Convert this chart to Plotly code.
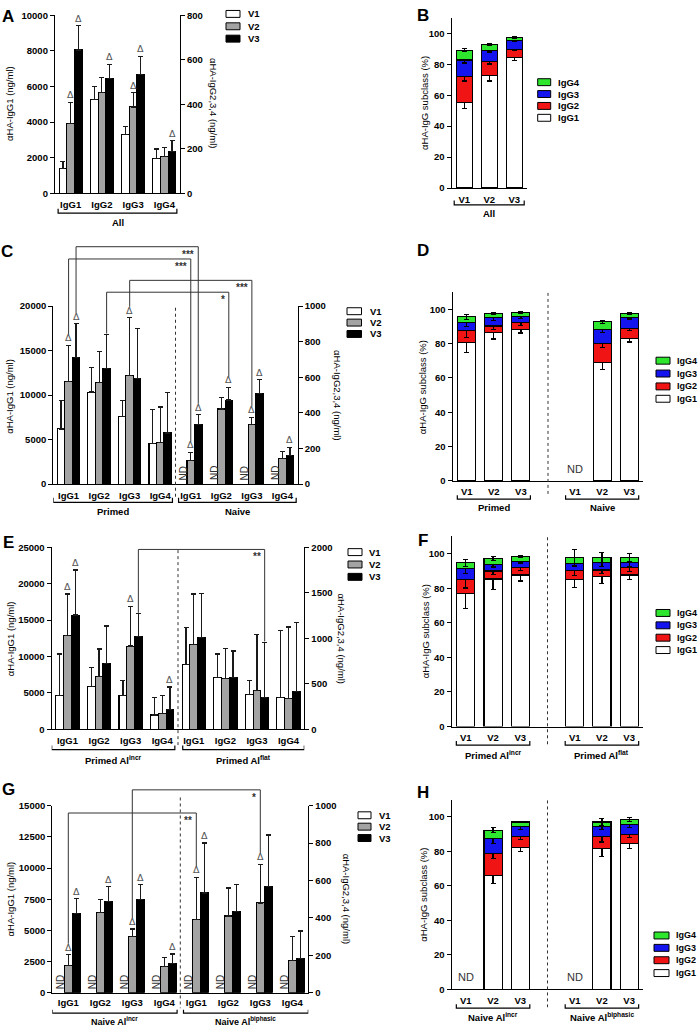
import plotly.graph_objects as go

W, H = 700, 1032
FONT = "Liberation Sans"

visits = ["V1", "V2", "V3"]
subclasses = ["IgG1", "IgG2", "IgG3", "IgG4"]
visit_colors = {"V1": "#ffffff", "V2": "#a3a3a3", "V3": "#000000"}
sub_colors = {"IgG1": "#ffffff", "IgG2": "#f01414", "IgG3": "#1414ee", "IgG4": "#2ee62e"}

# ---------------- Panel A (All) : IgG1 left axis, IgG2-4 right axis ----------------
a_ticks = ["IgG1", "IgG2", "IgG3", "IgG4"]
a_v1 = [1400, 422, 264, 157]
a_v1_err = [400, 58, 37, 42]
a_v1_sig = [0, 0, 0, 0]
a_v2 = [3900, 453, 388, 167]
a_v2_err = [1200, 67, 64, 40]
a_v2_sig = [1, 0, 1, 0]
a_v3 = [8050, 516, 533, 188]
a_v3_err = [1350, 63, 83, 48]
a_v3_sig = [1, 1, 1, 1]

# ---------------- Panel C (Primed | Naive) ----------------
c_ticks = ["IgG1", "IgG2", "IgG3", "IgG4", "IgG1", "IgG2", "IgG3", "IgG4"]
c_v1 = [6200, 517, 378, 226, None, None, None, None]
c_v1_err = [3200, 137, 92, 191, None, None, None, None]
c_v1_sig = [0, 0, 0, 0, 0, 0, 0, 0]
c_v2 = [11500, 570, 611, 233, 2700, 422, 333, 146]
c_v2_err = [4100, 174, 324, 200, 855, 65, 43, 39]
c_v2_sig = [1, 0, 1, 0, 1, 0, 1, 0]
c_v3 = [14200, 650, 594, 287, 6700, 472, 511, 163]
c_v3_err = [3800, 190, 282, 228, 1100, 71, 76, 44]
c_v3_sig = [1, 0, 0, 0, 1, 1, 1, 1]

# ---------------- Panel E (Primed Al incr | Primed Al flat) ----------------
e_ticks = ["IgG1", "IgG2", "IgG3", "IgG4", "IgG1", "IgG2", "IgG3", "IgG4"]
e_v1 = [4650, 472, 374, 156, 8850, 573, 381, 348]
e_v1_err = [5700, 210, 160, 192, 5100, 255, 156, 734]
e_v1_sig = [0, 0, 0, 0, 0, 0, 0, 0]
e_v2 = [12900, 584, 915, 174, 11650, 555, 428, 338]
e_v2_err = [5700, 298, 439, 200, 6950, 334, 617, 787]
e_v2_sig = [1, 0, 1, 0, 0, 0, 0, 0]
e_v3 = [15700, 719, 1016, 218, 12600, 573, 348, 417]
e_v3_err = [6200, 417, 254, 247, 6050, 287, 607, 755]
e_v3_sig = [1, 0, 0, 1, 0, 0, 0, 0]

# ---------------- Panel G (Naive Al incr | Naive Al biphasic) ----------------
g_ticks = ["IgG1", "IgG2", "IgG3", "IgG4", "IgG1", "IgG2", "IgG3", "IgG4"]
g_v1 = [None, None, None, None, None, None, None, None]
g_v1_err = [None, None, None, None, None, None, None, None]
g_v1_sig = [0, 0, 0, 0, 0, 0, 0, 0]
g_v2 = [2200, 427, 300, 140, 5850, 410, 480, 173]
g_v2_err = [850, 73, 40, 47, 3400, 150, 207, 127]
g_v2_sig = [1, 0, 1, 0, 1, 0, 1, 0]
g_v3 = [6350, 487, 497, 157, 8000, 433, 567, 183]
g_v3_err = [1200, 80, 80, 50, 4000, 147, 276, 147]
g_v3_sig = [1, 1, 1, 1, 1, 0, 0, 0]

# ---------------- Stacked subclass panels (%) ----------------
b_pos = [0, 1, 2]
b_ticks = ["V1", "V2", "V3"]
b_igg1 = [55.2, 73.0, 84.1]
b_igg1_err = [3.8, 3.8, 1.5]
b_igg2 = [17.0, 8.7, 5.7]
b_igg2_err = [3.0, 1.5, 0.8]
b_igg3 = [10.6, 7.5, 5.5]
b_igg3_err = [2.0, 1.2, 0.6]
b_igg4 = [6.4, 3.4, 2.2]
b_igg4_err = [1.0, 0.5, 0.5]

s_pos = [0, 1, 2, 4, 5, 6]
s_ticks = ["V1", "V2", "V3", "V1", "V2", "V3"]

d_igg1 = [80.7, 86.7, 88.2, None, 69.1, 83.0]
d_igg1_err = [6, 4, 2, None, 4, 2]
d_igg2 = [6.8, 3.6, 3.9, None, 11.2, 5.6]
d_igg2_err = [4, 2, 1.5, None, 2.5, 1]
d_igg3 = [4.8, 4.9, 3.5, None, 8.1, 6.8]
d_igg3_err = [2.5, 1.5, 1, None, 2, 1]
d_igg4 = [3.3, 2.3, 2.5, None, 4.3, 2.1]
d_igg4_err = [1.5, 0.5, 0.5, None, 1, 0.5]

f_igg1 = [77.1, 85.3, 87.6, 84.8, 87.0, 87.6]
f_igg1_err = [9, 6, 3.5, 4.5, 4.5, 2.5]
f_igg2 = [8.0, 4.6, 4.2, 5.5, 3.5, 4.2]
f_igg2_err = [5, 2, 1.5, 3, 2, 2]
f_igg3 = [6.5, 3.8, 3.8, 4.0, 4.2, 2.9]
f_igg3_err = [3, 1.5, 1, 2, 2, 2]
f_igg4 = [3.1, 3.4, 2.5, 3.4, 3.0, 3.0]
f_igg4_err = [2, 1, 0.5, 4.5, 3, 2.5]

h_igg1 = [None, 66.1, 82.4, None, 81.8, 84.7]
h_igg1_err = [None, 4.5, 2.5, None, 4.5, 3]
h_igg2 = [None, 12.8, 6.1, None, 6.7, 5.3]
h_igg2_err = [None, 3, 1.5, None, 3, 2]
h_igg3 = [None, 8.6, 5.8, None, 6.1, 5.6]
h_igg3_err = [None, 3, 1.5, None, 2, 1.5]
h_igg4 = [None, 4.8, 2.8, None, 2.5, 2.9]
h_igg4_err = [None, 1.5, 0.5, None, 2, 1]

# =====================================================================
fig = go.Figure()
shapes, annotations, layout = [], [], {}


def fx(p):
    return p / W


def fy(p):
    return 1 - p / H


TICKFONT = dict(family=FONT, size=9.5, color="black", weight="bold")
XTICKFONT = dict(family=FONT, size=9.5, color="black", weight="bold")
BW = 0.245


def axline():
    return dict(showline=True, linecolor="black", linewidth=1.3, showgrid=False,
                zeroline=False, fixedrange=True)


def key(prefix, aid):
    return prefix + "axis" + aid[1:]


def vpx(v, rng, ypx):
    return ypx[1] - (v - rng[0]) / (rng[1] - rng[0]) * (ypx[1] - ypx[0])


def text(x, y, s, size=9.5, bold=False, xref="paper", yref="paper", angle=0,
         xanchor="center", yanchor="middle", color="black", family=FONT, **kw):
    f = dict(family=family, size=size, color=color)
    if bold:
        f["weight"] = "bold"
    annotations.append(dict(x=x, y=y, xref=xref, yref=yref, text=s, showarrow=False,
                            textangle=angle, xanchor=xanchor, yanchor=yanchor, font=f, **kw))


def grouped_panel(xid, ylid, yrid, xpx, ypx, ticks, series, left_idx, yl_rng, yl_dt, yr_rng, yr_dt, tl=2):
    n = len(ticks)
    dom_y = [fy(ypx[1]), fy(ypx[0])]
    layout[key("x", xid)] = dict(domain=[fx(xpx[0]), fx(xpx[1])], anchor=ylid, range=[-0.5, n - 0.5],
                                 tickvals=list(range(n)), ticktext=ticks, ticks="outside", ticklen=tl,
                                 tickcolor="rgba(0,0,0,0)", tickfont=XTICKFONT, **axline())
    layout[key("y", ylid)] = dict(domain=dom_y, anchor=xid, range=yl_rng, dtick=yl_dt, tick0=0,
                                  tickformat="d", ticks="outside", ticklen=4, tickwidth=1.3,
                                  tickcolor="black", tickfont=TICKFONT, **axline())
    layout[key("y", yrid)] = dict(domain=dom_y, anchor=xid, overlaying=ylid, side="right",
                                  range=yr_rng, dtick=yr_dt, tick0=0, tickformat="d", ticks="outside",
                                  ticklen=4, tickwidth=1.3, tickcolor="black", tickfont=TICKFONT, **axline())
    for vi, v in enumerate(visits):
        m, e, s = series[vi]
        off = (vi - 1) * BW
        for is_left, yid in ((True, ylid), (False, yrid)):
            idx = [i for i in range(n) if (i in left_idx) == is_left]
            fig.add_trace(go.Bar(
                x=[i + off for i in idx], y=[m[i] for i in idx], width=BW,
                xaxis=xid, yaxis=yid, name=v, showlegend=False,
                marker=dict(color=visit_colors[v], line=dict(color="black", width=1.1)),
                error_y=dict(type="data", symmetric=False, array=[e[i] or 0 for i in idx],
                             arrayminus=[0] * len(idx), color="#1a1a1a", thickness=1.2, width=2.5)))
            for i in idx:
                if m[i] is None:
                    text(i + off, 0, "ND", size=10, xref=xid, yref=ylid, angle=-90,
                         yanchor="bottom", color="#333", yshift=2)
                elif s[i]:
                    text(i + off, m[i] + e[i], "Δ", size=9.5, xref=xid, yref=yid,
                         yanchor="bottom", color="#555", family="DejaVu Sans", yshift=0)


def sig_brackets(xid, ypx, series, left_idx, yl_rng, yr_rng, specs):
    for c1, v1, c2, v2, level, label in specs:
        pts = []
        for c, v in ((c1, v1), (c2, v2)):
            vi = visits.index(v)
            m, e, s = series[vi]
            rng = yl_rng if c in left_idx else yr_rng
            top = vpx(m[c] + e[c], rng, ypx) - (11 if s[c] else 1)
            pts.append((c + (vi - 1) * BW, top))
        (xa, ya), (xb, yb) = pts
        shapes.append(dict(type="path", xref=xid, yref="paper",
                           path=f"M {xa},{fy(ya)} L {xa},{fy(level)} L {xb},{fy(level)} L {xb},{fy(yb)}",
                           line=dict(color="#333", width=1)))
        text(xb, fy(level), label, size=10, bold=True, xref=xid, xanchor="right", yanchor="top",
             color="#333", xshift=-2, yshift=0)


def stacked_panel(xid, yid, xpx, ypx, pos, ticks, xrng, bw, comps, errs):
    layout[key("x", xid)] = dict(domain=[fx(xpx[0]), fx(xpx[1])], anchor=yid, range=xrng,
                                 tickvals=pos, ticktext=ticks, ticks="outside", ticklen=2,
                                 tickcolor="rgba(0,0,0,0)", tickfont=XTICKFONT, **axline())
    layout[key("y", yid)] = dict(domain=[fy(ypx[1]), fy(ypx[0])], anchor=xid, range=[0, 110],
                                 tickvals=[0, 20, 40, 60, 80, 100], ticks="outside", ticklen=4,
                                 tickwidth=1.3, tickcolor="black", tickfont=TICKFONT, **axline())
    for sub, vals, er in zip(subclasses, comps, errs):
        fig.add_trace(go.Bar(
            x=pos, y=vals, width=bw, xaxis=xid, yaxis=yid, name=sub, showlegend=False,
            marker=dict(color=sub_colors[sub], line=dict(color="black", width=1.1)),
            error_y=dict(type="data", array=[v or 0 for v in er], color="black", thickness=1.2, width=2.5)))


def group_brackets(xid, specs, y_end, y_line, y_label, size=9.5):
    for a, b, label in specs:
        shapes.append(dict(type="path", xref=xid, yref="paper",
                           path=f"M {a},{fy(y_end)} L {a},{fy(y_line)} L {b},{fy(y_line)} L {b},{fy(y_end)}",
                           line=dict(color="black", width=1.2)))
        text((a + b) / 2, fy(y_label), label, size=size, bold=True, xref=xid)


def divider(xid, xpos, ytop, ybot):
    shapes.append(dict(type="line", xref=xid, yref="paper", x0=xpos, x1=xpos, y0=fy(ytop), y1=fy(ybot),
                       line=dict(color="#333", width=1, dash="dot")))


def legend_block(names, colors, x0, x1, ys, tx, size=9.5):
    for nm, y in zip(names, ys):
        shapes.append(dict(type="rect", xref="paper", yref="paper", x0=fx(x0), x1=fx(x1),
                           y0=fy(y + 3.5), y1=fy(y - 3.5), fillcolor=colors[nm],
                           line=dict(color="black", width=1)))
        text(fx(tx), fy(y), nm, size=size, bold=True, xanchor="left")


TITLE_L = "αHA-IgG1 (ng/ml)"
TITLE_R = "αHA-IgG2,3,4 (ng/ml)"
TITLE_S = "αHA-IgG subclass (%)"

# ---------------- A ----------------
A_X, A_Y = (55, 180), (9.3, 189.3)
a_series = [(a_v1, a_v1_err, a_v1_sig), (a_v2, a_v2_err, a_v2_sig), (a_v3, a_v3_err, a_v3_sig)]
grouped_panel("x", "y", "y2", A_X, A_Y, a_ticks, a_series, [0], [0, 10000], 2000, [0, 800], 200)
group_brackets("x", [(-0.4, 3.4, "All")], 205, 209.3, 218.5)
legend_block(visits, visit_colors, 226, 240, [8, 20.5, 33], 246)
text(fx(10), fy(99), TITLE_L, size=9.5, angle=-90)
text(fx(213), fy(98), TITLE_R, size=9.5, angle=90)

# ---------------- C ----------------
C_X, C_Y = (53.3, 297.7), (303.3, 483.3)
c_series = [(c_v1, c_v1_err, c_v1_sig), (c_v2, c_v2_err, c_v2_sig), (c_v3, c_v3_err, c_v3_sig)]
grouped_panel("x3", "y4", "y5", C_X, C_Y, c_ticks, c_series, [0, 4], [0, 20000], 5000, [0, 1000], 200)
sig_brackets("x3", C_Y, c_series, [0, 4], [0, 20000], [0, 1000],
             [(0, "V3", 4, "V3", 243.3, "***"), (0, "V2", 4, "V2", 255.7, "***"),
              (2, "V2", 6, "V2", 277.3, "***"), (1, "V3", 5, "V3", 289.3, "*")])
divider("x3", 3.5, 305, 497)
group_brackets("x3", [(-0.5, 3.4, "Primed"), (3.6, 7.45, "Naive")], 497, 501.7, 511)
legend_block(visits, visit_colors, 347, 361.5, [308.5, 320, 331.5], 368)
text(fx(10), fy(395), TITLE_L, size=9.5, angle=-90)
text(fx(336.7), fy(394), TITLE_R, size=9.5, angle=90)

# ---------------- E ----------------
E_X, E_Y = (51.7, 304.3), (547.3, 731)
e_series = [(e_v1, e_v1_err, e_v1_sig), (e_v2, e_v2_err, e_v2_sig), (e_v3, e_v3_err, e_v3_sig)]
grouped_panel("x5", "y7", "y8", E_X, E_Y, e_ticks, e_series, [0, 4], [0, 25000], 5000, [0, 2000], 500)
sig_brackets("x5", E_Y, e_series, [0, 4], [0, 25000], [0, 2000], [(2, "V3", 6, "V3", 549.3, "**")])
divider("x5", 3.5, 550, 747)
group_brackets("x5", [(-0.5, 3.4, "Primed Al<sup>incr</sup>"), (3.65, 7.5, "Primed Al<sup>flat</sup>")],
               747.5, 751.7, 762)
legend_block(visits, visit_colors, 348, 362, [552, 564.5, 577], 367)
text(fx(10), fy(640), TITLE_L, size=9.5, angle=-90)
text(fx(341.7), fy(640), TITLE_R, size=9.5, angle=90)

# ---------------- G ----------------
G_X, G_Y = (52.3, 308.3), (808.3, 997.3)
g_series = [(g_v1, g_v1_err, g_v1_sig), (g_v2, g_v2_err, g_v2_sig), (g_v3, g_v3_err, g_v3_sig)]
grouped_panel("x7", "y10", "y11", G_X, G_Y, g_ticks, g_series, [0, 4], [0, 15000], 2500, [0, 1000], 200, tl=1)
sig_brackets("x7", G_Y, g_series, [0, 4], [0, 15000], [0, 1000],
             [(2, "V2", 6, "V2", 792.3, "*"), (0, "V2", 4, "V2", 815.7, "**")])
divider("x7", 3.5, 800, 1013)
group_brackets("x7", [(-0.5, 3.4, "Naive Al<sup>incr</sup>"), (3.6, 7.5, "Naive Al<sup>biphasic</sup>")],
               1014.5, 1018, 1025.5, size=9)
legend_block(visits, visit_colors, 358, 371, [818, 829.5, 841], 377)
text(fx(10), fy(903), TITLE_L, size=9.5, angle=-90)
text(fx(346.7), fy(903), TITLE_R, size=9.5, angle=90)

# ---------------- Stacked panels ----------------
S_XR = [-0.52, 6.52]
stacked_panel("x2", "y3", (451.7, 526.7), (12, 184), b_pos, b_ticks, [-0.5, 2.5], 0.64,
              [b_igg1, b_igg2, b_igg3, b_igg4], [b_igg1_err, b_igg2_err, b_igg3_err, b_igg4_err])
group_brackets("x2", [(-0.4, 2.4, "All")], 196.7, 201, 209.5)
legend_block(subclasses[::-1], sub_colors, 537.7, 550.7, [77, 89, 101, 113], 556)
text(fx(425), fy(98), TITLE_S, size=9.5, angle=-90)

stacked_panel("x4", "y6", (452.7, 643.3), (289.3, 480), s_pos, s_ticks, S_XR, 0.665,
              [d_igg1, d_igg2, d_igg3, d_igg4], [d_igg1_err, d_igg2_err, d_igg3_err, d_igg4_err])
divider("x4", 3, 290, 495)
group_brackets("x4", [(-0.35, 2.35, "Primed"), (3.65, 6.35, "Naive")], 494.5, 498.5, 506.5)
legend_block(subclasses[::-1], sub_colors, 656, 670, [358.5, 371.5, 384.5, 397], 675, size=9)
text(fx(423.3), fy(385), TITLE_S, size=9.5, angle=-90)
text(4, 0, "ND", size=11, xref="x4", yref="y6", yanchor="bottom", color="#333", yshift=4)

stacked_panel("x6", "y9", (451.7, 643.3), (536, 728.3), s_pos, s_ticks, S_XR, 0.665,
              [f_igg1, f_igg2, f_igg3, f_igg4], [f_igg1_err, f_igg2_err, f_igg3_err, f_igg4_err])
divider("x6", 3, 537, 747)
group_brackets("x6", [(-0.35, 2.35, "Primed Al<sup>incr</sup>"), (3.65, 6.35, "Primed Al<sup>flat</sup>")],
               743, 747, 757)
legend_block(subclasses[::-1], sub_colors, 656, 670, [613.5, 626, 638.5, 651], 675, size=9)
text(fx(425), fy(632), TITLE_S, size=9.5, angle=-90)

stacked_panel("x8", "y12", (451.7, 643.3), (802.3, 994), s_pos, s_ticks, S_XR, 0.665,
              [h_igg1, h_igg2, h_igg3, h_igg4], [h_igg1_err, h_igg2_err, h_igg3_err, h_igg4_err])
divider("x8", 3, 803, 1012)
group_brackets("x8", [(-0.35, 2.35, "Naive Al<sup>incr</sup>"), (3.65, 6.35, "Naive Al<sup>biphasic</sup>")],
               1009, 1013, 1022)
legend_block(subclasses[::-1], sub_colors, 654, 669, [939.5, 952, 964.5, 977.5], 674, size=9)
text(fx(423.3), fy(898), TITLE_S, size=9.5, angle=-90)
for p in (0, 4):
    text(p, 0, "ND", size=11, xref="x8", yref="y12", yanchor="bottom", color="#333", yshift=4)

# ---------------- panel letters ----------------
for lab, lx, ly in [("A", 8, 11), ("B", 423, 10), ("C", 7, 248), ("D", 423, 247),
                    ("E", 8, 542), ("F", 423, 540), ("G", 8, 792), ("H", 423, 795)]:
    text(fx(lx), fy(ly), lab, size=17, bold=True)

fig.update_layout(width=W, height=H, margin=dict(l=0, r=0, t=0, b=0), autosize=False,
                  plot_bgcolor="white", paper_bgcolor="white", barmode="stack", showlegend=False,
                  font=dict(family=FONT, color="black"), shapes=shapes, annotations=annotations,
                  **layout)
fig.write_html("out.html", config={"displayModeBar": False},
               post_script="document.body.style.margin='0';document.body.style.overflow='hidden';")
